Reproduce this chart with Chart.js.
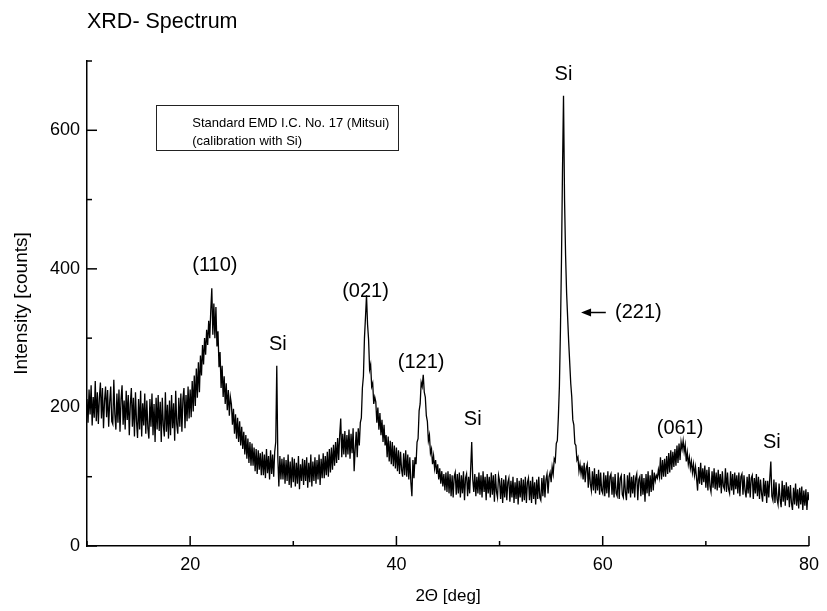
<!DOCTYPE html>
<html>
<head>
<meta charset="utf-8">
<script src="https://cdn.jsdelivr.net/npm/chart.js@4.4.1/dist/chart.umd.min.js"></script>
<style>
  html, body { margin: 0; padding: 0; background: #fff; }
  canvas { display: block; }
</style>
</head>
<body>
<canvas id="xrd" width="827" height="611"></canvas>
<script>
// 2-theta sampling of the scan (deg)
const startAngle = 10;
const stepAngle = 0.1;

// intensity [counts], one row per degree (x.0 .. x.9)
const intensity = [
  212, 178, 226, 190, 232, 174, 215, 185, 238, 180,
  222, 176, 214, 236, 184, 228, 170, 210, 230, 186,
  225, 172, 208, 230, 180, 176, 240, 190, 168, 220,
  178, 226, 165, 212, 232, 175, 210, 168, 224, 182,
  218, 160, 205, 228, 172, 214, 158, 222, 180, 156,
  212, 168, 224, 158, 206, 174, 220, 162, 210, 170,
  155, 212, 172, 220, 160, 205, 150, 214, 168, 218,
  166, 208, 150, 214, 174, 158, 222, 165, 204, 155,
  210, 160, 218, 170, 206, 152, 224, 176, 162, 214,
  172, 220, 165, 212, 228, 170, 218, 180, 230, 184,
  226, 186, 238, 194, 246, 202, 256, 214, 265, 222,
  275, 246, 290, 262, 300, 276, 312, 290, 325, 300,
  340, 372, 305, 350, 300, 345, 288, 310, 258, 280,
  228, 260, 215, 245, 205, 235, 196, 225, 188, 215,
  205, 175, 198, 162, 190, 155, 185, 150, 180, 145,
  172, 140, 165, 132, 160, 126, 155, 120, 150, 116,
  148, 116, 142, 108, 140, 104, 138, 110, 134, 102,
  136, 102, 132, 98, 140, 105, 130, 96, 138, 104,
  132, 100, 136, 150, 260, 128, 86, 130, 96, 126,
  96, 128, 90, 124, 94, 132, 88, 122, 84, 128,
  92, 126, 86, 120, 90, 130, 82, 118, 94, 126,
  88, 124, 94, 128, 84, 120, 92, 132, 86, 122,
  94, 128, 90, 124, 96, 132, 88, 126, 98, 134,
  98, 130, 102, 136, 100, 140, 106, 142, 110, 146,
  116, 150, 120, 156, 124, 160, 184, 128, 162, 132,
  166, 128, 160, 132, 168, 126, 162, 134, 170, 108,
  140, 165, 128, 170, 145, 178, 185, 228, 245, 300,
  330, 362, 320, 298, 255, 262, 230, 235, 205, 215,
  208, 178, 200, 168, 192, 160, 182, 150, 175, 145,
  160, 128, 158, 122, 152, 118, 150, 115, 145, 112,
  142, 108, 138, 104, 136, 110, 100, 134, 102, 138,
  100, 132, 96, 128, 92, 72, 124, 98, 128, 118,
  150, 155, 195, 205, 236, 230, 247, 222, 215, 188,
  180, 152, 160, 134, 140, 118, 130, 112, 124, 104,
  118, 96, 112, 90, 108, 86, 104, 80, 106, 78,
  108, 76, 104, 72, 102, 70, 100, 106, 74, 104,
  76, 106, 70, 102, 76, 108, 66, 98, 104, 72,
  100, 76, 112, 150, 96, 78, 104, 72, 100, 76,
  106, 74, 102, 70, 108, 78, 100, 66, 104, 76,
  100, 70, 106, 74, 102, 64, 104, 78, 70, 102,
  94, 68, 98, 62, 96, 70, 102, 66, 92, 98,
  64, 94, 70, 100, 62, 92, 68, 98, 60, 94,
  70, 98, 64, 96, 66, 100, 62, 92, 98, 66,
  94, 62, 100, 68, 92, 60, 96, 68, 100, 70,
  66, 98, 72, 102, 70, 96, 104, 76, 100, 106,
  92, 114, 104, 126, 122, 148, 152, 186, 230, 310,
  410, 540, 650, 500, 420, 365, 330, 295, 265, 235,
  215, 182, 175, 148, 145, 124, 128, 108, 118, 104,
  116, 96, 120, 92, 112, 118, 84, 114, 90, 80,
  108, 80, 112, 76, 104, 80, 110, 74, 106, 80,
  76, 106, 72, 102, 76, 108, 70, 100, 104, 74,
  100, 70, 104, 76, 72, 106, 68, 98, 102, 74,
  70, 104, 78, 66, 102, 76, 106, 70, 100, 76,
  102, 70, 98, 104, 66, 96, 100, 72, 104, 74,
  98, 64, 104, 76, 108, 72, 102, 78, 110, 80,
  106, 94, 102, 98, 110, 100, 128, 96, 124, 100,
  126, 100, 130, 104, 134, 106, 138, 110, 136, 114,
  140, 116, 145, 120, 148, 124, 150, 140, 152, 136,
  146, 122, 135, 118, 128, 112, 122, 106, 118, 102,
  114, 98, 80, 114, 90, 120, 88, 112, 92, 116,
  84, 110, 80, 114, 86, 78, 108, 84, 112, 82,
  106, 80, 110, 84, 104, 76, 108, 86, 82, 112,
  78, 106, 82, 76, 108, 80, 104, 74, 106, 82,
  102, 76, 106, 72, 100, 104, 74, 102, 80, 70,
  100, 76, 104, 70, 98, 102, 68, 98, 76, 104,
  72, 100, 68, 96, 76, 64, 98, 72, 94, 62,
  94, 70, 98, 122, 72, 66, 96, 62, 92, 68,
  60, 90, 68, 56, 94, 64, 88, 58, 92, 66,
  86, 56, 88, 62, 52, 84, 60, 90, 58, 82,
  54, 84, 60, 86, 52, 80, 58, 82, 52, 78,
  66
];

// reflex labels, placed in data coordinates (2theta, counts)
const peakLabels = ['(110)', 'Si', '(021)', '(121)', 'Si', 'Si', '(061)', 'Si'];
const peakLabelX = [22.4, 28.5, 37.0, 42.4, 47.4, 56.2, 67.5, 76.4];
const peakLabelY = [405, 291, 368, 265, 182, 681, 170, 149];

// arrow pointing at the (221) shoulder
const arrowLabel = '(221)';
const arrowTail = [60.3, 337];
const arrowHead = [57.9, 337];
const arrowTextX = 61.2;

// sample note box
const noteLines = ['Standard EMD I.C. No. 17 (Mitsui)', '(calibration with Si)'];
const noteBoxX = [16.7, 40.2];
const noteBoxY = [637, 572];
const noteTextX = 20.2;
const noteLineY = [610, 584];

const points = intensity.map((v, i) => ({
  x: Math.round((startAngle + i * stepAngle) * 10) / 10,
  y: v
}));

const FONT = "'Liberation Sans', Arial, Helvetica, sans-serif";
Chart.defaults.font.family = FONT;
Chart.defaults.color = '#000';

const decorations = {
  id: 'decorations',
  afterDraw(chart) {
    const { ctx, chartArea, scales: { x, y } } = chart;
    ctx.save();
    ctx.strokeStyle = '#000';
    ctx.fillStyle = '#000';
    ctx.lineWidth = 1.5;

    // inward tick marks
    x.ticks.forEach(t => {
      const px = x.getPixelForValue(t.value);
      const len = t.value % 20 === 0 ? 10 : 5;
      ctx.beginPath();
      ctx.moveTo(px, chartArea.bottom);
      ctx.lineTo(px, chartArea.bottom - len);
      ctx.stroke();
    });
    y.ticks.forEach(t => {
      const py = y.getPixelForValue(t.value);
      const len = t.value % 200 === 0 ? 10 : 5;
      ctx.beginPath();
      ctx.moveTo(chartArea.left, py);
      ctx.lineTo(chartArea.left + len, py);
      ctx.stroke();
    });

    // title
    ctx.font = '21.5px ' + FONT;
    ctx.textAlign = 'left';
    ctx.textBaseline = 'middle';
    ctx.fillText('XRD- Spectrum', chartArea.left, 22);

    // peak labels
    ctx.font = '20px ' + FONT;
    ctx.textAlign = 'center';
    peakLabels.forEach((txt, i) => {
      ctx.fillText(txt, x.getPixelForValue(peakLabelX[i]), y.getPixelForValue(peakLabelY[i]));
    });

    // arrow + (221)
    const ax0 = x.getPixelForValue(arrowTail[0]);
    const ax1 = x.getPixelForValue(arrowHead[0]);
    const ay = y.getPixelForValue(arrowHead[1]);
    ctx.lineWidth = 1.5;
    ctx.beginPath();
    ctx.moveTo(ax0, ay);
    ctx.lineTo(ax1 + 6, ay);
    ctx.stroke();
    ctx.beginPath();
    ctx.moveTo(ax1, ay);
    ctx.lineTo(ax1 + 10, ay - 4);
    ctx.lineTo(ax1 + 10, ay + 4);
    ctx.closePath();
    ctx.fill();
    ctx.textAlign = 'left';
    ctx.fillText(arrowLabel, x.getPixelForValue(arrowTextX), y.getPixelForValue(arrowTail[1]));

    // note box
    const bx0 = x.getPixelForValue(noteBoxX[0]);
    const bx1 = x.getPixelForValue(noteBoxX[1]);
    const by0 = y.getPixelForValue(noteBoxY[0]);
    const by1 = y.getPixelForValue(noteBoxY[1]);
    ctx.lineWidth = 1;
    ctx.strokeStyle = '#222';
    ctx.strokeRect(Math.round(bx0) + 0.5, Math.round(by0) + 0.5, Math.round(bx1 - bx0), Math.round(by1 - by0));
    ctx.font = '13px ' + FONT;
    ctx.textAlign = 'left';
    noteLines.forEach((line, i) => {
      ctx.fillText(line, x.getPixelForValue(noteTextX), y.getPixelForValue(noteLineY[i]));
    });
    ctx.restore();
  }
};

new Chart(document.getElementById('xrd'), {
  type: 'line',
  data: {
    datasets: [{
      data: points,
      borderColor: '#000',
      borderWidth: 1.3,
      pointRadius: 0,
      tension: 0,
      fill: false
    }]
  },
  options: {
    responsive: false,
    animation: false,
    layout: { padding: { top: 61, right: 15, left: 0, bottom: 0 } },
    plugins: {
      legend: { display: false },
      tooltip: { enabled: false }
    },
    scales: {
      x: {
        type: 'linear',
        min: 10,
        max: 80,
        grid: { display: false, drawTicks: false },
        border: { display: true, color: '#000', width: 1.5 },
        ticks: {
          stepSize: 10,
          autoSkip: false,
          maxRotation: 0,
          padding: 8,
          font: { size: 18 },
          callback: v => (v % 20 === 0 ? v : '')
        },
        title: {
          display: true,
          text: '2Θ [deg]',
          font: { size: 17 },
          padding: { top: 0, bottom: 4 }
        },
        afterFit: s => { s.height = 65; }
      },
      y: {
        min: 0,
        max: 700,
        grid: { display: false, drawTicks: false },
        border: { display: true, color: '#000', width: 1.5 },
        ticks: {
          stepSize: 100,
          autoSkip: false,
          padding: 7,
          font: { size: 18 },
          callback: v => (v % 200 === 0 ? v : '')
        },
        title: {
          display: true,
          text: 'Intensity [counts]',
          font: { size: 19 },
          padding: { top: 10, bottom: 0 }
        },
        afterFit: s => { s.width = 87; }
      }
    }
  },
  plugins: [decorations]
});
</script>
</body>
</html>
